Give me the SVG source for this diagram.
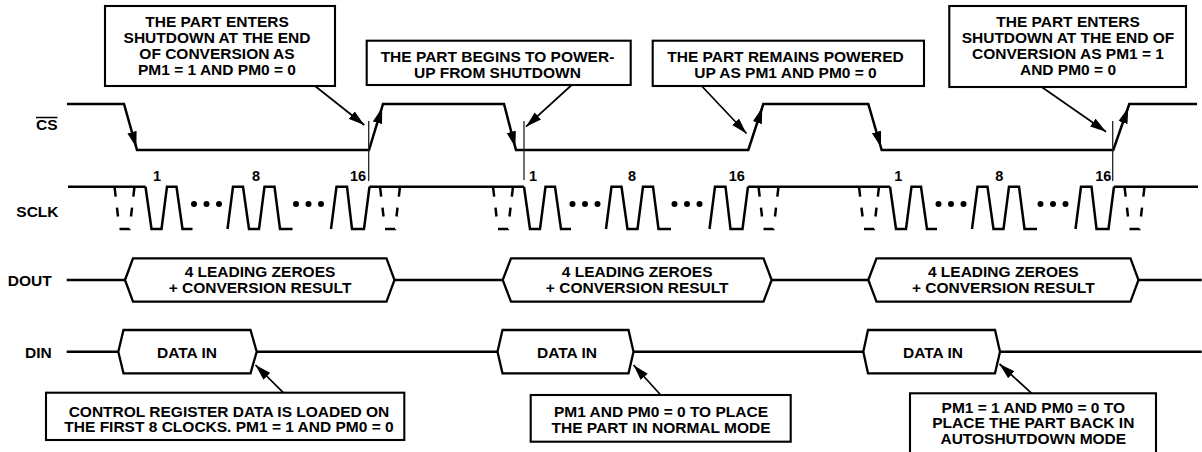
<svg xmlns="http://www.w3.org/2000/svg" width="1202" height="452" viewBox="0 0 1202 452">
<style>
.t{font-family:"Liberation Sans",Arial,Helvetica,sans-serif;font-weight:bold;font-size:15.5px;fill:#000;text-anchor:middle}
.lbl{font-family:"Liberation Sans",Arial,Helvetica,sans-serif;font-weight:bold;font-size:15.5px;fill:#000;text-anchor:end}
.num{font-family:"Liberation Sans",Arial,Helvetica,sans-serif;font-weight:bold;font-size:14.5px;fill:#000;text-anchor:middle}
.w{fill:none;stroke:#000;stroke-width:2.5;stroke-linejoin:miter}
.bus{fill:#fff;stroke:#000;stroke-width:2.3;stroke-linejoin:miter}
.box{fill:#fff;stroke:#000;stroke-width:2.1}
.cl{stroke:#000;stroke-width:1.7;fill:none}
.thin{stroke:#222;stroke-width:1.3}
.trap{fill:none;stroke:#000;stroke-width:2.5;stroke-dasharray:10 11 9 12.6 10 12.6 9 11 10}
</style>
<defs>
<marker id="ah" markerUnits="userSpaceOnUse" markerWidth="17" markerHeight="10" refX="16" refY="4.75" orient="auto">
<path d="M0,0 L16,4.75 L0,9.5 z" fill="#000"/>
</marker>
<path id="trap" class="trap" d="M0,186.7 L5,229 L15,229 L20,186.7"/>
<g id="burst">
<path class="w" d="M0,186.7 L6,229 L16,229 L21.5,186.7 L31,186.7 L37,229 L47,229 M82,229 L87.5,186.7 L97.5,186.7 L103.5,229 L113.5,229 L119,186.7 L129,186.7 L134.5,229 L147,229 M185.5,229 L191,186.7 L201.5,186.7 L206.5,229 L218.5,229 L224,186.7"/>
<circle cx="48.5" cy="204" r="3"/><circle cx="61" cy="204" r="3"/><circle cx="73.5" cy="204" r="3"/>
<circle cx="150.5" cy="204" r="3"/><circle cx="163" cy="204" r="3"/><circle cx="175.5" cy="204" r="3"/>
<use href="#trap" x="-31"/>
<use href="#trap" x="234.5"/>
</g>
</defs>

<g id="signal-labels">
<text class="lbl" x="57.5" y="130">CS</text>
<line x1="36" y1="117.5" x2="57.5" y2="117.5" stroke="#000" stroke-width="1.5"/>
<text class="lbl" x="58.5" y="216.7">SCLK</text>
<text class="lbl" x="51.7" y="286">DOUT</text>
<text class="lbl" x="51.7" y="358.3">DIN</text>
</g>

<g id="cs">
<polyline class="w" points="67,104 124,104 137,150 369,150 383,104 504,104 516,150 748.3,150 763.3,104 868.3,104 881.7,150 1113.3,150 1129.3,104 1197,104"/>
<path d="M124,104 L136.4,147.5" stroke="none" marker-end="url(#ah)"/>
<path d="M504,104 L515.3,147.3" stroke="none" marker-end="url(#ah)"/>
<path d="M868.3,104 L881,147.3" stroke="none" marker-end="url(#ah)"/>
<path d="M369,150 L382.2,107.5" stroke="none" marker-end="url(#ah)"/>
<path d="M748.3,150 L762.3,107.5" stroke="none" marker-end="url(#ah)"/>
<path d="M1113.3,150 L1128.3,107.5" stroke="none" marker-end="url(#ah)"/>
<line class="thin" x1="368.7" y1="121" x2="368.7" y2="181"/>
<line class="thin" x1="524" y1="121" x2="524" y2="180"/>
<line class="thin" x1="1112.7" y1="121" x2="1112.7" y2="181"/>
</g>

<g id="sclk">
<path class="w" d="M68,186.7 H145.5 M369.5,186.7 H524 M748,186.7 H890 M1114,186.7 H1198"/>
<use href="#burst" x="145.5"/>
<use href="#burst" x="524"/>
<use href="#burst" x="890"/>
<text class="num" x="157" y="180.8">1</text>
<text class="num" x="256" y="180.8">8</text>
<text class="num" x="358" y="180.8">16</text>
<text class="num" x="533" y="180.8">1</text>
<text class="num" x="632" y="180.8">8</text>
<text class="num" x="736.7" y="180.8">16</text>
<text class="num" x="898.3" y="180.8">1</text>
<text class="num" x="999.3" y="180.8">8</text>
<text class="num" x="1103.3" y="180.8">16</text>
</g>

<g id="dout">
<line class="w" x1="66.7" y1="280" x2="1201.7" y2="280"/>
<polygon class="bus" points="125,280 133,258.3 386.5,258.3 394.5,280 386.5,301.7 133,301.7"/>
<polygon class="bus" points="502.7,280 511,258.3 763.5,258.3 771.7,280 763.5,301.7 511,301.7"/>
<polygon class="bus" points="868.3,280 876.5,258.3 1130.5,258.3 1138.5,280 1130.5,301.7 876.5,301.7"/>
<text class="t" x="260" y="276.7">4 LEADING ZEROES</text>
<text class="t" x="260" y="293.3">+ CONVERSION RESULT</text>
<text class="t" x="637.2" y="276.7">4 LEADING ZEROES</text>
<text class="t" x="637.2" y="293.3">+ CONVERSION RESULT</text>
<text class="t" x="1003.3" y="276.7">4 LEADING ZEROES</text>
<text class="t" x="1003.3" y="293.3">+ CONVERSION RESULT</text>
</g>

<g id="din">
<line class="w" x1="66.7" y1="351.7" x2="1201.7" y2="351.7"/>
<polygon class="bus" points="118.3,351.7 123.5,330 250.5,330 256.7,351.7 250.5,373.3 123.5,373.3"/>
<polygon class="bus" points="497.5,351.7 502.5,330 628.5,330 633.5,351.7 628.5,373.3 502.5,373.3"/>
<polygon class="bus" points="863.3,351.7 868,330 995,330 1000,351.7 995,373.3 868,373.3"/>
<text class="t" x="187" y="358.3">DATA IN</text>
<text class="t" x="567" y="358.3">DATA IN</text>
<text class="t" x="933" y="358.3">DATA IN</text>
</g>

<g id="connectors">
<line class="cl" x1="315" y1="86" x2="364.3" y2="125" marker-end="url(#ah)"/>
<line class="cl" x1="571.7" y1="85" x2="526" y2="126.7" marker-end="url(#ah)"/>
<line class="cl" x1="701.7" y1="86" x2="746.5" y2="133.5" marker-end="url(#ah)"/>
<line class="cl" x1="1041.7" y1="87" x2="1106" y2="131.7" marker-end="url(#ah)"/>
<line class="cl" x1="283.3" y1="392.7" x2="255.5" y2="365" marker-end="url(#ah)"/>
<line class="cl" x1="660.7" y1="395" x2="633.5" y2="365" marker-end="url(#ah)"/>
<line class="cl" x1="1031.7" y1="393.3" x2="999.5" y2="364" marker-end="url(#ah)"/>
</g>

<g id="note-shutdown-1">
<rect class="box" x="105" y="6" width="230" height="80"/>
<text class="t" x="217" y="27.3">THE PART ENTERS</text>
<text class="t" x="217" y="43.3">SHUTDOWN AT THE END</text>
<text class="t" x="217" y="59">OF CONVERSION AS</text>
<text class="t" x="217" y="75">PM1 = 1 AND PM0 = 0</text>
</g>

<g id="note-powerup">
<rect class="box" x="366.7" y="40.7" width="264" height="44.3"/>
<text class="t" x="497.5" y="61.7">THE PART BEGINS TO POWER-</text>
<text class="t" x="497.5" y="77.7">UP FROM SHUTDOWN</text>
</g>

<g id="note-powered">
<rect class="box" x="652.7" y="40.7" width="271.3" height="45.3"/>
<text class="t" x="785.5" y="61.7">THE PART REMAINS POWERED</text>
<text class="t" x="785.5" y="77.5">UP AS PM1 AND PM0 = 0</text>
</g>

<g id="note-shutdown-2">
<rect class="box" x="949.3" y="6" width="236.7" height="81"/>
<text class="t" x="1068" y="27.3">THE PART ENTERS</text>
<text class="t" x="1068" y="43.3">SHUTDOWN AT THE END OF</text>
<text class="t" x="1068" y="59">CONVERSION AS PM1 = 1</text>
<text class="t" x="1068" y="75">AND PM0 = 0</text>
</g>

<g id="note-control-register">
<rect class="box" x="46" y="392.7" width="358.3" height="47.3"/>
<text class="t" x="229" y="416.7">CONTROL REGISTER DATA IS LOADED ON</text>
<text class="t" x="229" y="431.7">THE FIRST 8 CLOCKS. PM1 = 1 AND PM0 = 0</text>
</g>

<g id="note-normal-mode">
<rect class="box" x="530.7" y="395" width="260" height="46.7"/>
<text class="t" x="661" y="416.7">PM1 AND PM0 = 0 TO PLACE</text>
<text class="t" x="661" y="432.7">THE PART IN NORMAL MODE</text>
</g>

<g id="note-autoshutdown">
<rect class="box" x="910" y="393.3" width="246" height="70"/>
<text class="t" x="1033.3" y="412.7">PM1 = 1 AND PM0 = 0 TO</text>
<text class="t" x="1033.3" y="428.3">PLACE THE PART BACK IN</text>
<text class="t" x="1033.3" y="444">AUTOSHUTDOWN MODE</text>
</g>
</svg>
